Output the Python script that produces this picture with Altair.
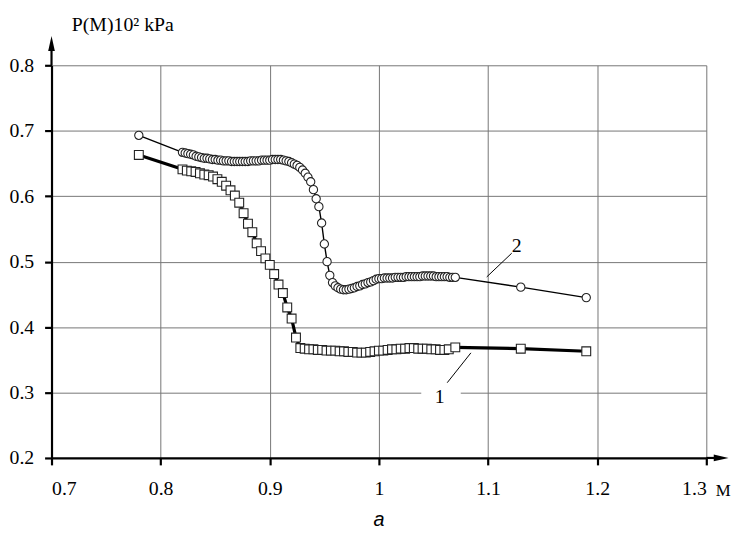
import altair as alt
import pandas as pd

# ---- data ----
m2 = [0.780,
      0.8200, 0.8225, 0.8250, 0.8275, 0.8300, 0.8325, 0.8350, 0.8375, 0.8400, 0.8425,
      0.8450, 0.8475, 0.8500, 0.8525, 0.8550, 0.8575, 0.8600, 0.8625, 0.8650, 0.8675,
      0.8700, 0.8725, 0.8750, 0.8775, 0.8800, 0.8825, 0.8850, 0.8875, 0.8900, 0.8925,
      0.8950, 0.8975, 0.9000, 0.9025, 0.9050, 0.9075, 0.9100, 0.9125, 0.9150, 0.9175,
      0.9200, 0.9225, 0.9250, 0.9275, 0.9300, 0.9325, 0.9350, 0.9375, 0.9400, 0.9425,
      0.9450, 0.9475, 0.9500, 0.9525, 0.9550, 0.9575, 0.9600, 0.9625, 0.9650, 0.9675,
      0.9700, 0.9725, 0.9750, 0.9775, 0.9800, 0.9825, 0.9850, 0.9875, 0.9900, 0.9925,
      0.9950, 0.9975, 1.0000, 1.0025, 1.0050, 1.0075, 1.0100, 1.0125, 1.0150, 1.0175,
      1.0200, 1.0225, 1.0250, 1.0275, 1.0300, 1.0325, 1.0350, 1.0375, 1.0400, 1.0425,
      1.0450, 1.0475, 1.0500, 1.0525, 1.0550, 1.0575, 1.0600, 1.0625, 1.0650, 1.0675,
      1.0700, 1.130, 1.190]
p2 = [0.693,
      0.667, 0.666, 0.665, 0.664, 0.663, 0.661, 0.660, 0.659, 0.658, 0.658,
      0.657, 0.656, 0.656, 0.655, 0.655, 0.654, 0.654, 0.654, 0.653, 0.653,
      0.653, 0.653, 0.653, 0.653, 0.653, 0.654, 0.654, 0.654, 0.654, 0.655,
      0.655, 0.655, 0.655, 0.656, 0.656, 0.656, 0.656, 0.655, 0.654, 0.653,
      0.651, 0.649, 0.647, 0.644, 0.640, 0.635, 0.629, 0.622, 0.610, 0.596,
      0.584, 0.559, 0.527, 0.500, 0.479, 0.468, 0.463, 0.460, 0.458, 0.457,
      0.457, 0.458, 0.459, 0.460, 0.462, 0.463, 0.465, 0.466, 0.468, 0.469,
      0.471, 0.473, 0.474, 0.474, 0.475, 0.475, 0.475, 0.475, 0.476, 0.476,
      0.476, 0.476, 0.477, 0.477, 0.477, 0.477, 0.477, 0.477, 0.478, 0.478,
      0.478, 0.478, 0.478, 0.477, 0.477, 0.477, 0.477, 0.477, 0.476, 0.476,
      0.476, 0.461, 0.445]

m1 = [0.780,
      0.820, 0.824, 0.828, 0.832, 0.836, 0.840, 0.844, 0.848, 0.852, 0.856,
      0.860, 0.864, 0.868, 0.872, 0.876, 0.880, 0.884, 0.888, 0.892, 0.896,
      0.900, 0.904, 0.908, 0.912, 0.916, 0.920, 0.924, 0.928, 0.932, 0.936,
      0.940, 0.944, 0.948, 0.952, 0.956, 0.960, 0.964, 0.968, 0.972, 0.976,
      0.980, 0.984, 0.988, 0.992, 0.996, 1.000, 1.004, 1.008, 1.012, 1.016,
      1.020, 1.024, 1.028, 1.032, 1.036, 1.040, 1.044, 1.048, 1.052, 1.056,
      1.060, 1.064, 1.070, 1.130, 1.190]
p1 = [0.663,
      0.641, 0.639, 0.638, 0.637, 0.635, 0.633, 0.632, 0.630, 0.626, 0.622,
      0.616, 0.609, 0.601, 0.590, 0.574, 0.558, 0.545, 0.528, 0.516, 0.505,
      0.495, 0.481, 0.465, 0.452, 0.430, 0.413, 0.384, 0.368, 0.367, 0.366,
      0.366, 0.365, 0.365, 0.364, 0.364, 0.364, 0.363, 0.363, 0.362, 0.362,
      0.361, 0.361, 0.361, 0.362, 0.363, 0.364, 0.364, 0.365, 0.366, 0.366,
      0.367, 0.367, 0.368, 0.368, 0.367, 0.367, 0.367, 0.366, 0.366, 0.365,
      0.365, 0.366, 0.369, 0.367, 0.363]

x_ticks = [0.7, 0.8, 0.9, 1.0, 1.1, 1.2, 1.3]
y_ticks = [0.2, 0.3, 0.4, 0.5, 0.6, 0.7, 0.8]

label_text = ["2", "1"]
label_m = [1.1262, 1.0557]
label_p = [0.5245, 0.2924]
leader_m = [1.0988, 1.0843]
leader_p = [0.4766, 0.3606]
leader_m2 = [1.1217, 1.0626]
leader_p2 = [0.5129, 0.3150]

gap_m = [1.0388]
gap_m2 = [1.0750]
gap_p = [0.3]

df1 = pd.DataFrame({"M": m1, "P": p1})
df2 = pd.DataFrame({"M": m2, "P": p2})
dlab = pd.DataFrame({"t": label_text, "M": label_m, "P": label_p})
dlead = pd.DataFrame({"M": leader_m, "P": leader_p, "M2": leader_m2, "P2": leader_p2})
dgap = pd.DataFrame({"M": gap_m, "M2": gap_m2, "P": gap_p})

SERIF = "Liberation Serif"
SANS = "Liberation Sans"
GRID = "#757575"

xs = alt.Scale(domain=[0.7, 1.3], nice=False, zero=False)
ys = alt.Scale(domain=[0.2, 0.8], nice=False, zero=False)

xaxis = alt.Axis(values=x_ticks, format="~g", grid=True, gridColor=GRID, gridWidth=1,
                 domainColor="black", domainWidth=2.2, tickColor="black", tickWidth=2.2,
                 tickSize=7, labelFont=SERIF, labelFontSize=20, labelColor="black",
                 labelPadding=14, title="M", titleFont=SERIF, titleFontSize=17,
                 titleFontWeight="normal", titleColor="black", titleX=671, titleY=33,
                 titleAlign="left", titleBaseline="middle")
yaxis = alt.Axis(values=y_ticks, format=".1f", grid=True, gridColor=GRID, gridWidth=1,
                 domainColor="black", domainWidth=2.2, tickColor="black", tickWidth=2.2,
                 tickSize=7, labelFont=SERIF, labelFontSize=20, labelColor="black",
                 labelPadding=11, title="P(M)10² kPa", titleFont=SERIF,
                 titleFontSize=20, titleFontWeight="normal", titleColor="black",
                 titleAngle=0, titleX=20, titleY=-41, titleAlign="left",
                 titleBaseline="middle")

X = alt.X("M:Q", scale=xs, axis=xaxis)
Y = alt.Y("P:Q", scale=ys, axis=yaxis)

gap = alt.Chart(dgap).mark_rule(color="white", strokeWidth=3).encode(
    x=X, x2="M2:Q", y=Y)

line2 = alt.Chart(df2).mark_line(color="black", strokeWidth=1.4).encode(
    x=X, y=Y, order=alt.Order("M:Q"))
pts2 = alt.Chart(df2).mark_point(shape="circle", filled=True, fill="white",
                                 stroke="#222", strokeWidth=1.1, size=70, opacity=1).encode(
    x=X, y=Y)

line1 = alt.Chart(df1).mark_line(color="black", strokeWidth=3.2).encode(
    x=X, y=Y, order=alt.Order("M:Q"))
pts1 = alt.Chart(df1).mark_point(shape="square", filled=True, fill="white",
                                 stroke="#222", strokeWidth=1.1, size=80, opacity=1).encode(
    x=X, y=Y)

leaders = alt.Chart(dlead).mark_rule(color="black", strokeWidth=1).encode(
    x=X, y=Y, x2="M2:Q", y2="P2:Q")
labels = alt.Chart(dlab).mark_text(font=SERIF, fontSize=20, color="black").encode(
    x=X, y=Y, text="t:N")

# axis arrows (decoration)
UP = "M0,-1L0.45,1L-0.45,1Z"
RIGHT = "M1,0L-1,0.45L-1,-0.45Z"
yarrow_line = alt.Chart(dgap).mark_rule(color="black", strokeWidth=2.2).encode(
    x=alt.value(0), y=alt.value(0), y2=alt.value(-17))
yarrow = alt.Chart(dgap).mark_point(shape=UP, filled=True, color="black",
                                    size=225, opacity=1).encode(
    x=alt.value(0), y=alt.value(-22))
xarrow_line = alt.Chart(dgap).mark_rule(color="black", strokeWidth=2.2).encode(
    x=alt.value(662), x2=alt.value(674), y=alt.value(397))
xarrow = alt.Chart(dgap).mark_point(shape=RIGHT, filled=True, color="black",
                                    size=225, opacity=1).encode(
    x=alt.value(677), y=alt.value(397))
caption = alt.Chart(dgap).mark_text(text="a", font=SANS, fontStyle="italic",
                                    fontSize=20, color="black").encode(
    x=alt.value(331), y=alt.value(460))

chart = alt.layer(
    line2, gap, line1, pts1, pts2, leaders, labels,
    yarrow_line, yarrow, xarrow_line, xarrow, caption
).properties(
    width=662, height=397,
    autosize=alt.AutoSizeParams(type="none"),
    padding={"left": 44, "top": 55, "right": 28, "bottom": 78},
).configure(
    background="white", font=SERIF,
    style={"guide-label": {"font": SERIF, "fontSize": 20}},
).configure_view(strokeWidth=0).configure_axis(
    labelFont=SERIF, labelFontSize=20, labelColor="black"
)

chart.save("out.html", embed_options={"renderer": "svg", "actions": False})
